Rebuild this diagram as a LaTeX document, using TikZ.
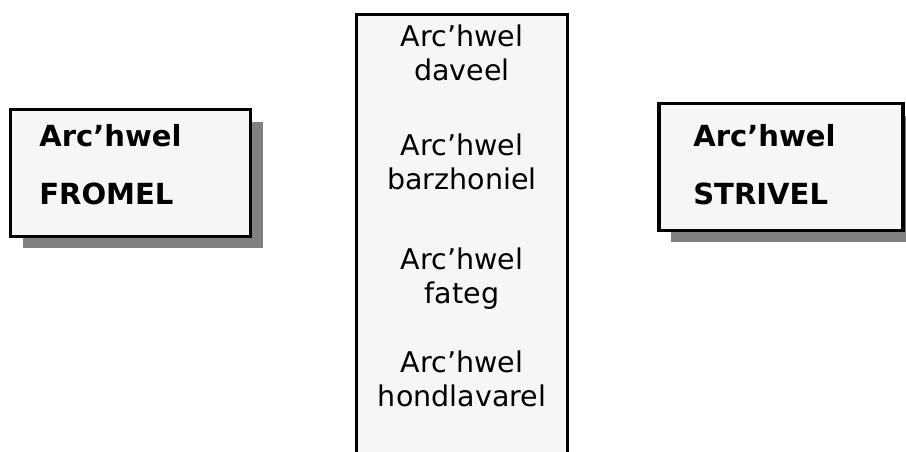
\documentclass[tikz,border=0pt]{standalone}
\usepackage{fontspec}
\setmainfont{DejaVu Sans}
\usepackage{tikz}
\usetikzlibrary{positioning, shadows}
\definecolor{box-fill}{HTML}{F6F6F6}
\definecolor{box-shadow}{HTML}{808080}

\begin{document}
\begin{tikzpicture}[x=0.75pt, y=-0.75pt,
	sidebox/.style={rectangle, draw, line width=2.6pt, fill=box-fill, minimum height=95pt,
		drop shadow={shadow xshift=9pt, shadow yshift=-9pt, fill=box-shadow, opacity=1}},
	midbox/.style={rectangle, draw, line width=2pt, fill=box-fill},
	sidetext/.style={anchor=base west, inner sep=0pt, font=\fontsize{21.8}{24}\selectfont\bfseries},
	midtext/.style={anchor=base, inner sep=0pt, font=\fontsize{21.4}{24}\selectfont}]
	\useasboundingbox (0,0) rectangle (906,452);
	\clip (0,0) rectangle (906,452);
	% the two outer boxes
	\node[sidebox, minimum width=180pt] (fromel) at (130.5,173) {};
	\node[sidebox, minimum width=183pt] (strivel) at (781,167) {};
	\node[sidetext] (fromel-1) at (39,147) {Arc’hwel};
	\node[sidetext] (fromel-2) at (39,205) {FROMEL};
	\node[sidetext] (strivel-1) at (693,147) {Arc’hwel};
	\node[sidetext] (strivel-2) at (693,205) {STRIVEL};
	% the middle column
	\node[midbox, minimum width=158.5pt, minimum height=336pt, anchor=north] (mid) at (462,13.3) {};
	\foreach \y/\word [count=\i] in {47/daveel, 156/barzhoniel, 269/fateg, 372/hondlavarel}
	{
		\node[midtext] (arc-\i) at (462,\y) {Arc’hwel};
		\node[midtext] (word-\i) at (462,\y+34) {\word};
	}
\end{tikzpicture}
\end{document}
